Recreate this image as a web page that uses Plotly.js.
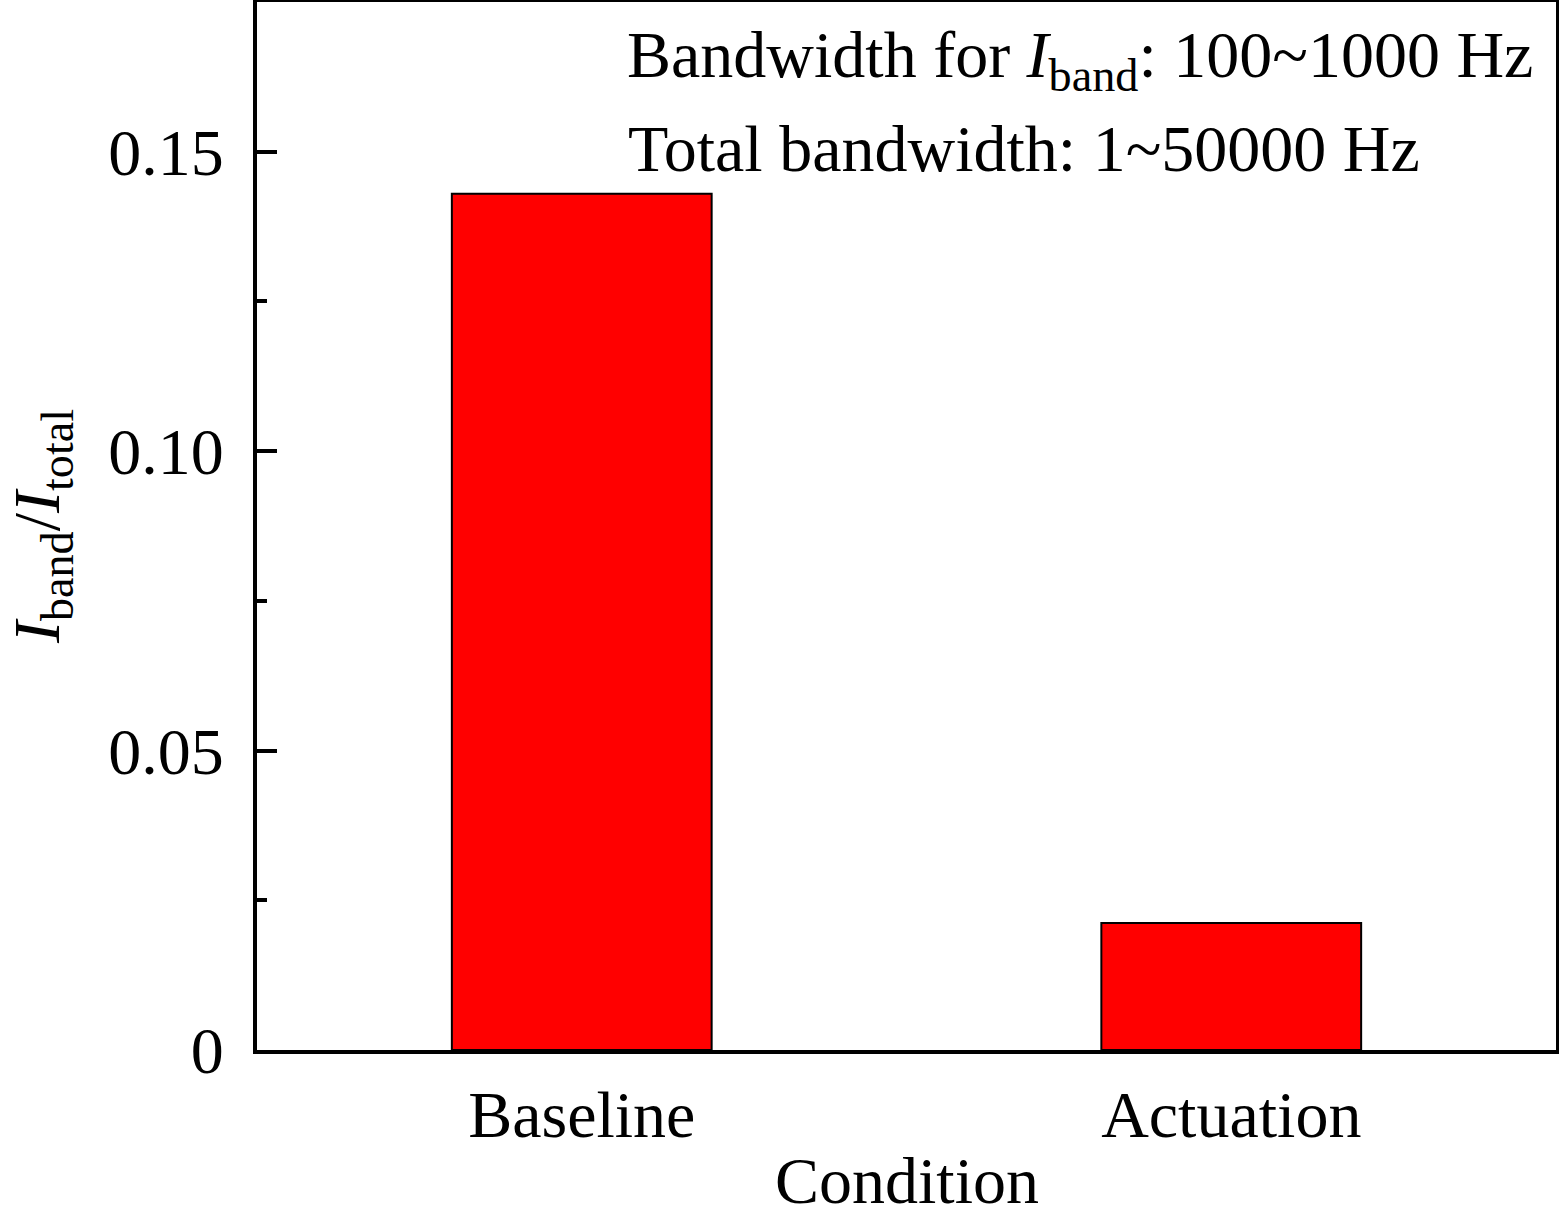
<!DOCTYPE html>
<html>
<head>
<meta charset="utf-8">
<script src="https://cdn.plot.ly/plotly-3.0.1.min.js"></script>
<style>
  html, body { margin: 0; padding: 0; background: #ffffff; }
  #chart { width: 1559px; height: 1218px; }
</style>
</head>
<body>
<div id="chart"></div>
<script>
// values
const conditions = ['Baseline', 'Actuation'];
const ratio = [0.143, 0.0212];
const yTickVals = [0, 0.05, 0.10, 0.15];
const yTickText = ['0', '0.05', '0.10', '0.15'];

const serif = '"Liberation Serif", "Times New Roman", serif';

const bars = {
    x: conditions,
    y: ratio,
    type: 'bar',
    width: 0.4,
    marker: {
        color: '#ff0000',
        line: { color: '#000000', width: 2 }
    },
    hoverinfo: 'x+y'
};

const layout = {
    width: 1559,
    height: 1218,
    showlegend: false,
    paper_bgcolor: '#ffffff',
    plot_bgcolor: '#ffffff',
    margin: { l: 257, r: 3, t: 2, b: 168 },
    font: { family: serif, color: '#000000', size: 66 },
    xaxis: {
        range: [-0.5, 1.5],
        showline: true, mirror: true,
        linecolor: '#000000', linewidth: 4,
        ticks: '',
        showgrid: false, zeroline: false,
        tickfont: { family: serif, size: 66 },
        ticklabelstandoff: 4,
        automargin: false
    },
    yaxis: {
        range: [0, 0.175],
        showline: true, mirror: true,
        linecolor: '#000000', linewidth: 4,
        ticks: 'inside', ticklen: 20, tickwidth: 4, tickcolor: '#000000',
        tickvals: yTickVals, ticktext: yTickText,
        minor: { dtick: 0.025, ticks: 'inside', ticklen: 10, tickwidth: 4, tickcolor: '#000000', showgrid: false },
        showgrid: false, zeroline: false,
        tickfont: { family: serif, size: 66 },
        ticklabelstandoff: 16,
        title: {
            text: '<i>I</i><sub>band</sub>/<i>I</i><sub>total</sub>',
            font: { family: serif, size: 66 },
            standoff: 32
        },
        automargin: false
    },
    annotations: [
        {
            // x axis title, sits on the bottom edge of the picture
            xref: 'paper', yref: 'paper',
            x: 0.5, y: -0.1603,
            xanchor: 'center', yanchor: 'bottom',
            showarrow: false,
            borderpad: 0,
            text: 'Condition',
            font: { family: serif, size: 66, color: '#000000' }
        },
        {
            xref: 'paper', yref: 'paper',
            x: 0.283, y: 0.945,
            xanchor: 'left', yanchor: 'middle',
            showarrow: false,
            align: 'left',
            text: 'Bandwidth for <i>I</i><sub>band</sub>: 100~1000 Hz',
            font: { family: serif, size: 66, color: '#000000' }
        },
        {
            xref: 'paper', yref: 'paper',
            x: 0.284, y: 0.86,
            xanchor: 'left', yanchor: 'middle',
            showarrow: false,
            align: 'left',
            text: 'Total bandwidth: 1~50000 Hz',
            font: { family: serif, size: 66, color: '#000000' }
        }
    ]
};

Plotly.newPlot('chart', [bars], layout, { displayModeBar: false, staticPlot: true });
</script>
</body>
</html>
